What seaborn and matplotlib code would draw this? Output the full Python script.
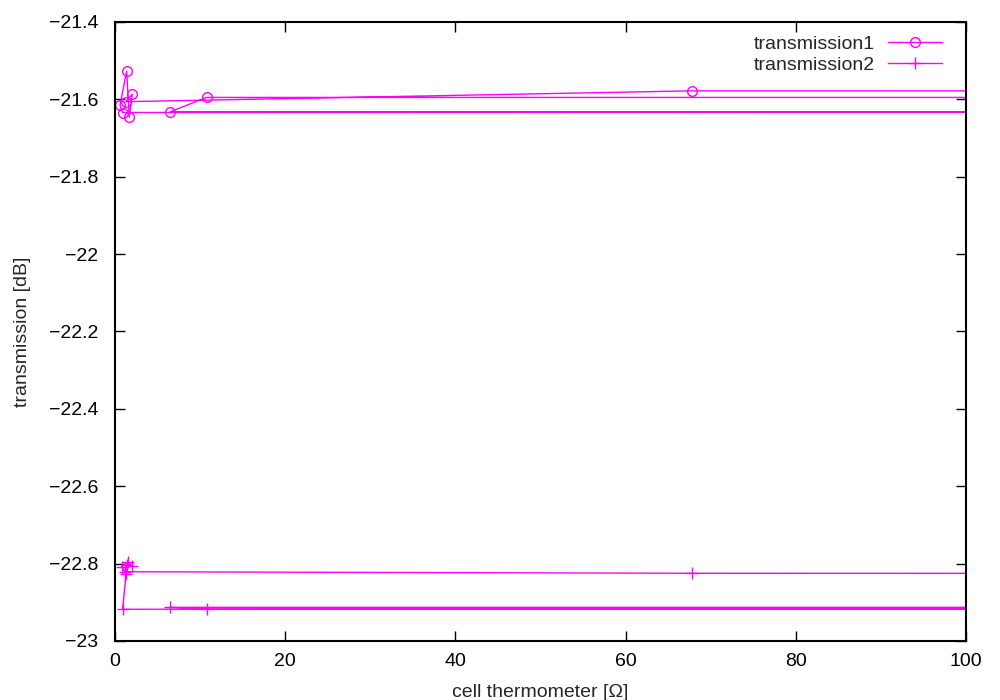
import numpy as np
import pandas as pd
import matplotlib
matplotlib.use("Agg")
import matplotlib.pyplot as plt
import seaborn as sns

# values; 300 = points beyond the x range (lines run off the right edge)
therm1 = [300, 10.77, 6.50, 300, 0.90, 0.59, 1.37, 1.68, 2.03, 1.26, 67.8, 300]
trans1 = [-21.595, -21.595, -21.632, -21.632, -21.634, -21.615, -21.527, -21.646, -21.587, -21.606, -21.578, -21.578]

therm2 = [300, 10.77, 6.50, 300, 0.90, 1.30, 0.78, 1.56, 1.95, 1.36, 1.17, 67.8, 300]
trans2 = [-22.918, -22.918, -22.913, -22.913, -22.918, -22.826, -22.808, -22.795, -22.806, -22.803, -22.821, -22.825, -22.826]

xticks = [0, 20, 40, 60, 80, 100]
yticks = [-21.4, -21.6, -21.8, -22, -22.2, -22.4, -22.6, -22.8, -23]

sns.set_style("ticks")
plt.rcParams['font.family'] = ['Liberation Sans', 'DejaVu Sans']
plt.rcParams['axes.unicode_minus'] = True

fig = plt.figure(figsize=(10, 7), dpi=100)
ax = fig.add_axes([0.115, 0.0843, 0.851, 0.8843])

df1 = pd.DataFrame({'x': therm1, 'y': trans1})
df2 = pd.DataFrame({'x': therm2, 'y': trans2})

sns.lineplot(data=df1, x='x', y='y', sort=False, estimator=None, ax=ax,
             color='#ff00ff', lw=1, marker='o', ms=7, mfc='none', mec='#ff00ff',
             mew=1, label='transmission1')
sns.lineplot(data=df2, x='x', y='y', sort=False, estimator=None, ax=ax,
             color='#ff00ff', lw=1, marker='+', ms=9, mec='#ff00ff',
             mew=1, label='transmission2')

ax.set_xlim(0, 100)
ax.set_ylim(-23, -21.4)
ax.set_xticks(xticks)
ax.set_yticks(yticks)
ax.set_yticklabels([('%g' % v).replace('-', '\u2212') for v in yticks])
ax.tick_params(direction='in', top=True, right=True, length=7, width=1,
               labelsize=14, colors='black')
ax.tick_params(axis='x', pad=9)
ax.tick_params(axis='y', pad=12)
for s in ax.spines.values():
    s.set_visible(True)
    s.set_linewidth(1.5)
    s.set_color('black')

ax.set_xlabel('cell thermometer [\u03a9]', fontsize=14, labelpad=10)
ax.set_ylabel('transmission [dB]', fontsize=14, labelpad=13)

ax.legend(loc='upper right', bbox_to_anchor=(0.972, 0.979), frameon=False,
          markerfirst=False, fontsize=14, handlelength=2.8, borderaxespad=0,
          borderpad=0, labelspacing=0.2, handletextpad=0.65)

fig.savefig('out.png', dpi=100)
